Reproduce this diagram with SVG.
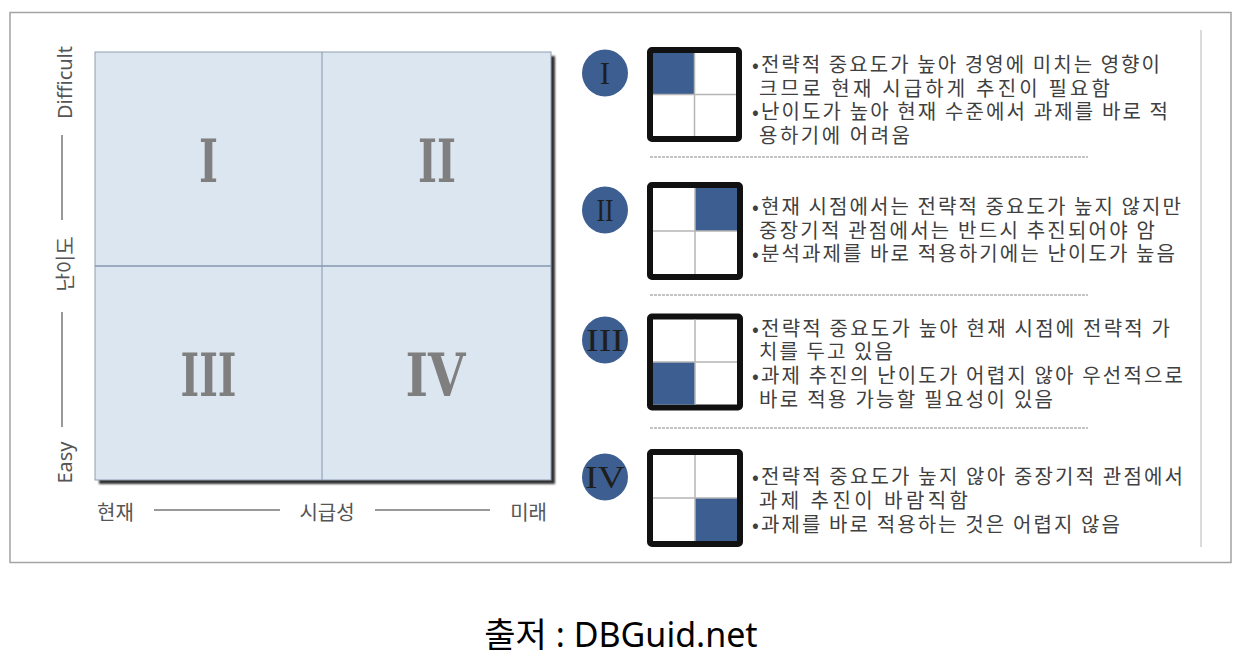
<svg xmlns="http://www.w3.org/2000/svg" width="1236" height="667" viewBox="0 0 1236 667">
<defs>
<style>
.ax{font-family:"Noto Sans","Noto Sans CJK KR",sans-serif;font-size:20px;fill:#555}
.big{font-family:"DejaVu Serif",serif;font-weight:bold;font-size:59px;fill:#7f7f7f}
.cn{font-family:"Liberation Serif","DejaVu Serif",serif;font-size:31px;fill:#1e1e1e}
.tx{font-family:"Noto Sans CJK KR","Noto Sans",sans-serif;font-size:20px;fill:#404040}
.bx{fill:#fff;stroke:#111;stroke-width:6}
.dv{stroke:#b5b5b5;stroke-width:1.5}
.bl{fill:#3c5e91}
.sep{stroke:#8a8a8a;stroke-width:1.2;stroke-dasharray:3 1}
.axl{stroke:#777;stroke-width:1.5}
</style>
<filter id="sh" x="-5%" y="-5%" width="110%" height="110%"><feGaussianBlur stdDeviation="1.2"/></filter>
</defs>
<rect x="0" y="0" width="1236" height="667" fill="#fff"/>
<rect id="frame" x="10" y="12.5" width="1221" height="550" fill="none" stroke="#a3a3a3" stroke-width="1.5"/>
<line x1="1201" y1="30" x2="1201" y2="547" stroke="#cfcfcf" stroke-width="1.5"/>

<g id="matrix">
<rect x="99" y="56" width="456" height="428" fill="#333" filter="url(#sh)"/>
<rect x="95" y="52" width="456" height="428" fill="#dce6f1" stroke="#8e9db2" stroke-width="1"/>
<line x1="322" y1="52" x2="322" y2="480" stroke="#8496b0" stroke-width="1"/>
<line x1="95" y1="266" x2="551" y2="266" stroke="#8496b0" stroke-width="1.5"/>
<text class="big" x="208.5" y="182" text-anchor="middle" textLength="19" lengthAdjust="spacingAndGlyphs">I</text>
<text class="big" x="437" y="182" text-anchor="middle" textLength="38" lengthAdjust="spacingAndGlyphs">II</text>
<text class="big" x="208.5" y="396" text-anchor="middle" textLength="56" lengthAdjust="spacingAndGlyphs">III</text>
<text class="big" x="435.5" y="396" text-anchor="middle" textLength="60" lengthAdjust="spacingAndGlyphs">IV</text>
</g>

<g id="y-axis">
<text class="ax" x="72" y="82.5" transform="rotate(-90 72 82.5)" text-anchor="middle">Difficult</text>
<line class="axl" x1="62" y1="135" x2="62" y2="220"/>
<text class="ax" x="73" y="264" transform="rotate(-90 73 264)" text-anchor="middle">난이도</text>
<line class="axl" x1="62" y1="312" x2="62" y2="427"/>
<text class="ax" x="72" y="462.5" transform="rotate(-90 72 462.5)" text-anchor="middle">Easy</text>
</g>

<g id="x-axis">
<text class="ax" x="97" y="520">현재</text>
<line class="axl" x1="154" y1="510" x2="280" y2="510"/>
<text class="ax" x="327" y="520" text-anchor="middle">시급성</text>
<line class="axl" x1="375" y1="510" x2="490" y2="510"/>
<text class="ax" x="547" y="520" text-anchor="end">미래</text>
</g>

<g id="separators">
<line class="sep" x1="650" y1="157" x2="1088" y2="157"/>
<line class="sep" x1="650" y1="295" x2="1088" y2="295"/>
<line class="sep" x1="650" y1="428" x2="1088" y2="428"/>
</g>

<g id="item-1">
<ellipse cx="605" cy="73" rx="23" ry="23.5" class="bl"/>
<text class="cn" x="605" y="84" text-anchor="middle">I</text>
<rect class="bx" x="650" y="50" width="89" height="89" rx="2"/>
<rect class="bl" x="653" y="53" width="41.5" height="41.5"/>
<line class="dv" x1="694.5" y1="53" x2="694.5" y2="136"/>
<line class="dv" x1="653" y1="94.5" x2="736" y2="94.5"/>
<text class="tx" x="752" y="72" textLength="408">•전략적 중요도가 높아 경영에 미치는 영향이</text>
<text class="tx" x="759" y="96" textLength="351">크므로 현재 시급하게 추진이 필요함</text>
<text class="tx" x="752" y="119" textLength="416">•난이도가 높아 현재 수준에서 과제를 바로 적</text>
<text class="tx" x="759" y="143" textLength="151">용하기에 어려움</text>
</g>

<g id="item-2">
<ellipse cx="605" cy="210" rx="23" ry="23.5" class="bl"/>
<text class="cn" x="605" y="221" text-anchor="middle" textLength="17" lengthAdjust="spacingAndGlyphs">II</text>
<rect class="bx" x="650" y="185" width="90" height="92" rx="2"/>
<rect class="bl" x="695" y="188" width="42" height="43"/>
<line class="dv" x1="695" y1="188" x2="695" y2="274"/>
<line class="dv" x1="653" y1="231" x2="737" y2="231"/>
<text class="tx" x="752" y="214" textLength="429">•현재 시점에서는 전략적 중요도가 높지 않지만</text>
<text class="tx" x="759" y="238" textLength="396">중장기적 관점에서는 반드시 추진되어야 암</text>
<text class="tx" x="752" y="261" textLength="423">•분석과제를 바로 적용하기에는 난이도가 높음</text>
</g>

<g id="item-3">
<ellipse cx="605" cy="340" rx="23" ry="23.5" class="bl"/>
<text class="cn" x="605" y="351" text-anchor="middle" textLength="38" lengthAdjust="spacingAndGlyphs">III</text>
<rect class="bx" x="650" y="316.5" width="90" height="91" rx="2"/>
<rect class="bl" x="653" y="362" width="42" height="42.5"/>
<line class="dv" x1="695" y1="319.5" x2="695" y2="404.5"/>
<line class="dv" x1="653" y1="362" x2="737" y2="362"/>
<text class="tx" x="752" y="336" textLength="418">•전략적 중요도가 높아 현재 시점에 전략적 가</text>
<text class="tx" x="759" y="359" textLength="134">치를 두고 있음</text>
<text class="tx" x="752" y="383" textLength="431">•과제 추진의 난이도가 어렵지 않아 우선적으로</text>
<text class="tx" x="759" y="407" textLength="294">바로 적용 가능할 필요성이 있음</text>
</g>

<g id="item-4">
<ellipse cx="605" cy="477" rx="23" ry="23.5" class="bl"/>
<text class="cn" x="605" y="488" text-anchor="middle" textLength="40" lengthAdjust="spacingAndGlyphs">IV</text>
<rect class="bx" x="650" y="452" width="90" height="92" rx="2"/>
<rect class="bl" x="695" y="498" width="42" height="43"/>
<line class="dv" x1="695" y1="455" x2="695" y2="541"/>
<line class="dv" x1="653" y1="498" x2="737" y2="498"/>
<text class="tx" x="752" y="484" textLength="431">•전략적 중요도가 높지 않아 중장기적 관점에서</text>
<text class="tx" x="759" y="508" textLength="209">과제 추진이 바람직함</text>
<text class="tx" x="752" y="532" textLength="368">•과제를 바로 적용하는 것은 어렵지 않음</text>
</g>

<text id="caption" x="621" y="647" text-anchor="middle" font-family="Noto Sans, Noto Sans CJK KR, sans-serif" font-size="34" fill="#000">출저 : DBGuid.net</text>
</svg>
